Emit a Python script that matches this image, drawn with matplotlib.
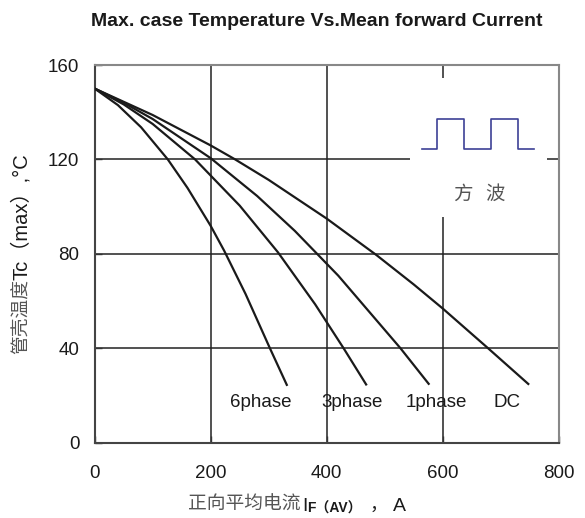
import matplotlib
matplotlib.use("Agg")
import matplotlib.pyplot as plt
from matplotlib.patches import Rectangle

W, H = 585, 518

# curve readings (current A, case temperature degC)
dc_x = [0, 100, 200, 242, 300, 400, 486, 550, 600, 678, 749]
dc_y = [150, 138.8, 125.9, 120, 111.3, 94.9, 79.4, 67.0, 56.8, 40, 24.5]
ph1_x = [0, 50, 100, 200, 280, 345, 420, 527, 577]
ph1_y = [150, 144.0, 137.1, 120.5, 104.5, 89.7, 70.7, 40, 24.5]
ph3_x = [0, 50, 100, 173, 250, 316, 380, 429, 469]
ph3_y = [150, 143.3, 135.0, 120, 100.4, 80.6, 58.6, 40, 24.2]
ph6_x = [0, 40, 80, 126, 160, 200, 223, 260, 302, 332]
ph6_y = [150, 143, 133.6, 120, 107.9, 91.8, 81.4, 63, 40, 24]

curve_labels = ["6phase", "3phase", "1phase", "DC"]
label_x = [287, 443, 589, 711]
label_y = [17, 17, 17, 17]

# square wave symbol in the inset
wave_x = [564, 591, 591, 637, 637, 683, 683, 730, 730, 758]
wave_y = [124.2, 124.2, 137.2, 137.2, 124.2, 124.2, 137.2, 137.2, 124.2, 124.2]

x_ticks = [0, 200, 400, 600, 800]
y_ticks = [0, 40, 80, 120, 160]

LATIN = ["Liberation Sans", "Noto Sans CJK SC"]
CJK = ["Noto Sans CJK SC", "DejaVu Sans"]


def fx(px):
    return px / W


def fy(py):
    return 1 - py / H


fig = plt.figure(figsize=(W / 100, H / 100), dpi=100)
ax = fig.add_axes([fx(94.7), fy(442.5), fx(558.7) - fx(94.7), fy(65) - fy(442.5)])

for xs, ys in [(dc_x, dc_y), (ph1_x, ph1_y), (ph3_x, ph3_y), (ph6_x, ph6_y)]:
    ax.plot(xs, ys, color="#1a1a1a", linewidth=1.6, zorder=3,
            solid_capstyle="butt", solid_joinstyle="round")

ax.set_xlim(0, 800)
ax.set_ylim(0, 160)
ax.set_xticks(x_ticks)
ax.set_yticks(y_ticks)
ax.set_axisbelow(True)
ax.grid(True, color="#222222", linewidth=1.1)

ax.add_patch(Rectangle((543.6, 95.7), 236.4, 59, facecolor="white", edgecolor="none", zorder=2))
ax.plot(wave_x, wave_y, color="#3d4196", linewidth=1.2, zorder=3)
ax.text(634, 105, "方", fontsize=14, color="#555555", family=CJK, ha="center", va="center", zorder=4)
ax.text(691, 105, "波", fontsize=14, color="#555555", family=CJK, ha="center", va="center", zorder=4)

for name, lx, ly in zip(curve_labels, label_x, label_y):
    ax.text(lx, ly, name, fontsize=13.5, family=LATIN, ha="center", va="center", color="#1a1a1a")

for side, spine in ax.spines.items():
    spine.set_linewidth(1.5)
    spine.set_color("#444444" if side in ("left", "bottom") else "#888888")

ax.tick_params(direction="in", length=5, width=1, color="#333333", labelsize=13.5)
ax.tick_params(axis="x", pad=16)
ax.tick_params(axis="y", pad=11)
for lab in ax.get_xticklabels() + ax.get_yticklabels():
    lab.set_family(LATIN)
    lab.set_color("#1a1a1a")

fig.text(fx(317), fy(22), "Max. case Temperature Vs.Mean forward Current",
         fontsize=14, fontweight="bold", family=LATIN, ha="center", va="center", color="#1a1a1a")

# y label: gray Chinese part, dark Latin part
fig.text(fx(21), fy(354), "管壳温度", rotation=90, fontsize=13.5, family=CJK,
         color="#555555", ha="center", va="bottom")
fig.text(fx(21), fy(280), "Tc（max）,°C", rotation=90, fontsize=14.5, family=LATIN,
         color="#1a1a1a", ha="center", va="bottom")

# x label pieces
fig.text(fx(188), fy(510), "正向平均电流", fontsize=13.5, family=CJK, color="#555555",
         ha="left", va="baseline")
fig.text(fx(302), fy(511), "I", fontsize=14, family=LATIN, color="#1a1a1a", ha="left", va="baseline")
fig.text(fx(307), fy(513), "F（AV）", fontsize=10, family=LATIN, fontweight="bold",
         color="#1a1a1a", ha="left", va="baseline")
fig.text(fx(370), fy(510), "，", fontsize=13, family=CJK, color="#1a1a1a", ha="left", va="baseline")
fig.text(fx(393), fy(511), "A", fontsize=14, family=LATIN, color="#1a1a1a", ha="left", va="baseline")

fig.savefig("out.png", dpi=100)
